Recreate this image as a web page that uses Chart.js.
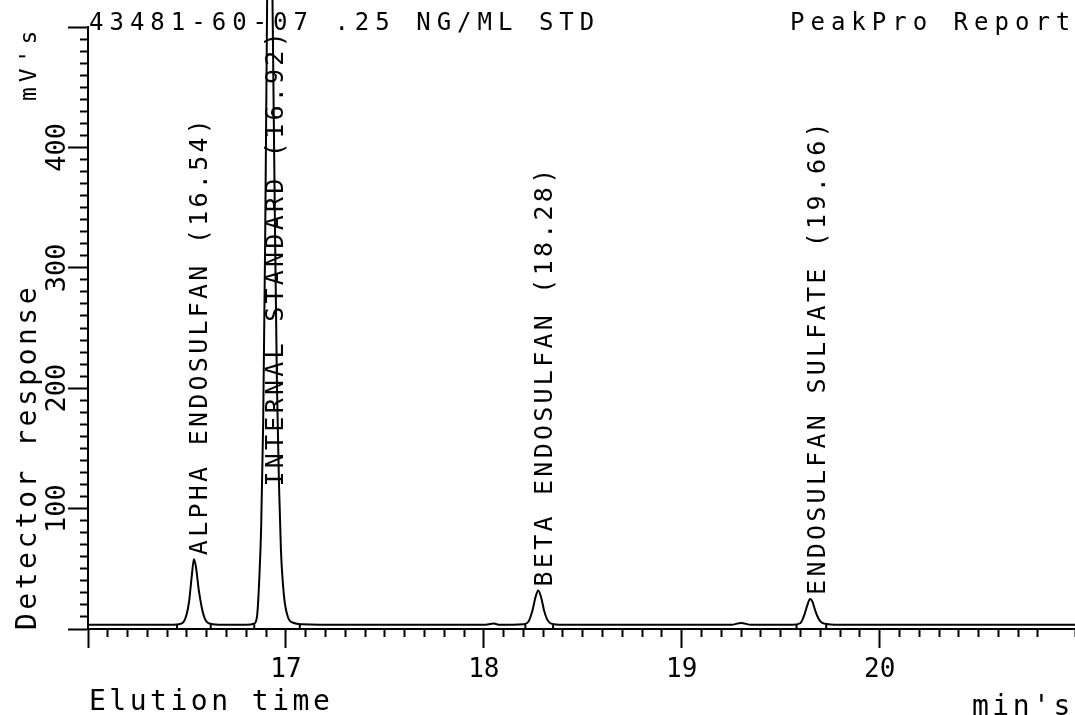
<!DOCTYPE html>
<html>
<head>
<meta charset="utf-8">
<title>43481-60-07 .25 NG/ML STD</title>
<script src="https://cdn.jsdelivr.net/npm/chart.js@4.4.1/dist/chart.umd.min.js"></script>
<style>
  html, body { margin: 0; padding: 0; background: #fff; }
  #wrap { position: relative; width: 1075px; height: 715px; overflow: hidden; background: #fff; }
  #wrap canvas { position: absolute; left: 0; top: 0; }
  .txt { position: absolute; white-space: nowrap; color: #000; font-family: 'DejaVu Sans Mono', monospace; }
  .rot { transform-origin: 0 0; transform: rotate(-90deg); }
</style>
</head>
<body>
<div id="wrap">
  <canvas id="chromatogram" width="1075" height="715"></canvas>
  <div class="txt" style="left:89px;top:10px;font-size:24px;line-height:24px;letter-spacing:6px">43481-60-07 .25 NG/ML STD</div>
  <div class="txt" style="left:790px;top:10px;font-size:24px;line-height:24px;letter-spacing:6px">PeakPro Report</div>
  <div class="txt rot" style="left:13px;top:630px;font-size:28px;line-height:28px;letter-spacing:3.5px">Detector response</div>
  <div class="txt rot" style="left:17px;top:101px;font-size:23px;line-height:23px;letter-spacing:5px">mV's</div>
  <div class="txt" style="left:89px;top:687px;font-size:28px;line-height:28px;letter-spacing:3.5px">Elution time</div>
  <div class="txt" style="left:972px;top:692px;font-size:28px;line-height:28px;letter-spacing:3.5px">min's</div>
</div>
<script>
// Detector trace (minutes, mV)
const elutionTimes = [
    16.00, 16.20, 16.40, 16.46, 16.49, 16.51, 16.525, 16.535, 16.545, 16.56, 16.58, 16.60, 16.63, 16.70,
    16.80, 16.84, 16.855, 16.865, 16.875, 16.885, 16.895, 16.905, 16.915, 16.925, 16.935, 16.945, 16.955,
    16.965, 16.975, 16.99, 17.01, 17.04, 17.08, 17.30, 17.60, 18.00, 18.05, 18.08, 18.20, 18.225, 18.245,
    18.262, 18.275, 18.29, 18.305, 18.32, 18.34, 18.40, 18.70, 19.00, 19.25, 19.30, 19.35, 19.56, 19.60,
    19.62, 19.635, 19.648, 19.66, 19.675, 19.69, 19.71, 19.74, 19.80, 20.30, 21.00
];
const detectorResponse = [
    3.5, 3.5, 3.5, 4, 8, 22, 45, 58, 52, 32, 14, 6, 4, 3.5,
    3.5, 4.5, 12, 40, 85, 170, 320, 520, 690, 620, 480, 330, 200,
    120, 65, 28, 10, 5, 4, 3.5, 3.5, 3.5, 4.5, 3.5, 4, 6, 15,
    27, 32, 26, 15, 8, 4.5, 3.5, 3.5, 3.5, 3.5, 5, 3.5, 3.5, 5,
    12, 20, 25, 23, 15, 9, 5, 4, 3.5, 3.5, 3.5
];

// Identified peaks
const peakNames = ['ALPHA ENDOSULFAN', 'INTERNAL STANDARD', 'BETA ENDOSULFAN', 'ENDOSULFAN SULFATE'];
const peakTimes = [16.54, 16.92, 18.28, 19.66];
const peakStarts = [16.45, 16.84, 18.21, 19.58];
const peakEnds = [16.62, 17.07, 18.35, 19.73];

// Axis labels
const xTickLabels = [17, 18, 19, 20];
const yTickLabels = [100, 200, 300, 400];

const offScaleLabelAt = 115;   // where the label of an off-scale peak starts
const markerHeight = 4;

const traceData = elutionTimes.map((t, i) => ({x: t, y: detectorResponse[i]}));

// Start/stop markers of the integrated peaks
const markerData = [];
peakStarts.forEach(function(s, i) {
    [s, peakEnds[i]].forEach(function(t) {
        markerData.push({x: t, y: 0}, {x: t, y: markerHeight}, {x: t, y: null});
    });
});

function peakApex(t) {
    let top = 0;
    elutionTimes.forEach(function(et, i) {
        if (Math.abs(et - t) < 0.03) top = Math.max(top, detectorResponse[i]);
    });
    return top;
}

function isMultiple(v, step) {
    return Math.abs(v / step - Math.round(v / step)) < 1e-6;
}

// Vertical peak names drawn above each apex
const peakLabels = {
    id: 'peakLabels',
    afterDatasetsDraw(chart) {
        const {ctx, scales: {x, y}} = chart;
        ctx.save();
        ctx.font = "25px 'DejaVu Sans Mono', monospace";
        ctx.fillStyle = '#000';
        ctx.textBaseline = 'middle';
        ctx.textAlign = 'left';
        peakNames.forEach(function(name, i) {
            const text = name + ' (' + peakTimes[i].toFixed(2) + ')';
            const apex = peakApex(peakTimes[i]);
            const startValue = apex > y.max ? offScaleLabelAt : apex;
            const px = x.getPixelForValue(peakTimes[i]) + 6;
            const py = y.getPixelForValue(startValue) - 4;
            ctx.save();
            ctx.translate(px, py);
            ctx.rotate(-Math.PI / 2);
            for (let c = 0; c < text.length; c++) {
                ctx.fillText(text[c], c * 18.3, 0);
            }
            ctx.restore();
        });
        ctx.restore();
    }
};

new Chart(document.getElementById('chromatogram'), {
    type: 'line',
    data: {
        datasets: [{
            label: 'Detector response',
            data: traceData,
            borderColor: '#000',
            borderWidth: 2,
            pointRadius: 0,
            cubicInterpolationMode: 'monotone',
            clip: false
        }, {
            label: 'Peak markers',
            data: markerData,
            borderColor: '#000',
            borderWidth: 2,
            pointRadius: 0,
            tension: 0,
            spanGaps: false
        }]
    },
    options: {
        responsive: false,
        animation: false,
        devicePixelRatio: 1,
        layout: { padding: { top: 27, left: 0, right: 0, bottom: 0 } },
        plugins: {
            legend: { display: false },
            tooltip: { enabled: false }
        },
        scales: {
            x: {
                type: 'linear',
                min: 16,
                max: 20.987,
                border: { display: true, color: '#000', width: 2 },
                grid: {
                    drawOnChartArea: false,
                    tickLength: 19,
                    tickWidth: 2,
                    tickColor: '#000',
                    tickBorderDash: function(ctx) {
                        return isMultiple(ctx.tick.value, 1) ? [] : [7, 40];
                    }
                },
                ticks: {
                    stepSize: 0.1,
                    autoSkip: false,
                    maxRotation: 0,
                    padding: 7,
                    color: '#000',
                    font: { family: "'DejaVu Sans Mono', monospace", size: 26 },
                    callback: function(value) {
                        const v = Math.round(value * 10) / 10;
                        return xTickLabels.indexOf(v) >= 0 ? String(v) : '';
                    }
                },
                afterFit: function(scale) {
                    scale.height = 86;
                    scale.paddingLeft = 0;
                    scale.paddingRight = 0;
                }
            },
            y: {
                min: 0,
                max: 500,
                border: { display: true, color: '#000', width: 2 },
                grid: {
                    drawOnChartArea: false,
                    tickLength: 20,
                    tickWidth: 2,
                    tickColor: '#000',
                    tickBorderDash: function(ctx) {
                        return isMultiple(ctx.tick.value, 100) ? [] : [0, 12, 40];
                    }
                },
                ticks: {
                    stepSize: 10,
                    autoSkip: false,
                    minRotation: 90,
                    maxRotation: 90,
                    crossAlign: 'center',
                    padding: -14,
                    color: '#000',
                    font: { family: "'DejaVu Sans Mono', monospace", size: 27 },
                    callback: function(value) {
                        const v = Math.round(value);
                        return yTickLabels.indexOf(v) >= 0 ? String(v) : '';
                    }
                },
                afterFit: function(scale) {
                    scale.width = 88;
                    scale.paddingTop = 0;
                    scale.paddingBottom = 0;
                }
            }
        }
    },
    plugins: [peakLabels]
});
</script>
</body>
</html>
